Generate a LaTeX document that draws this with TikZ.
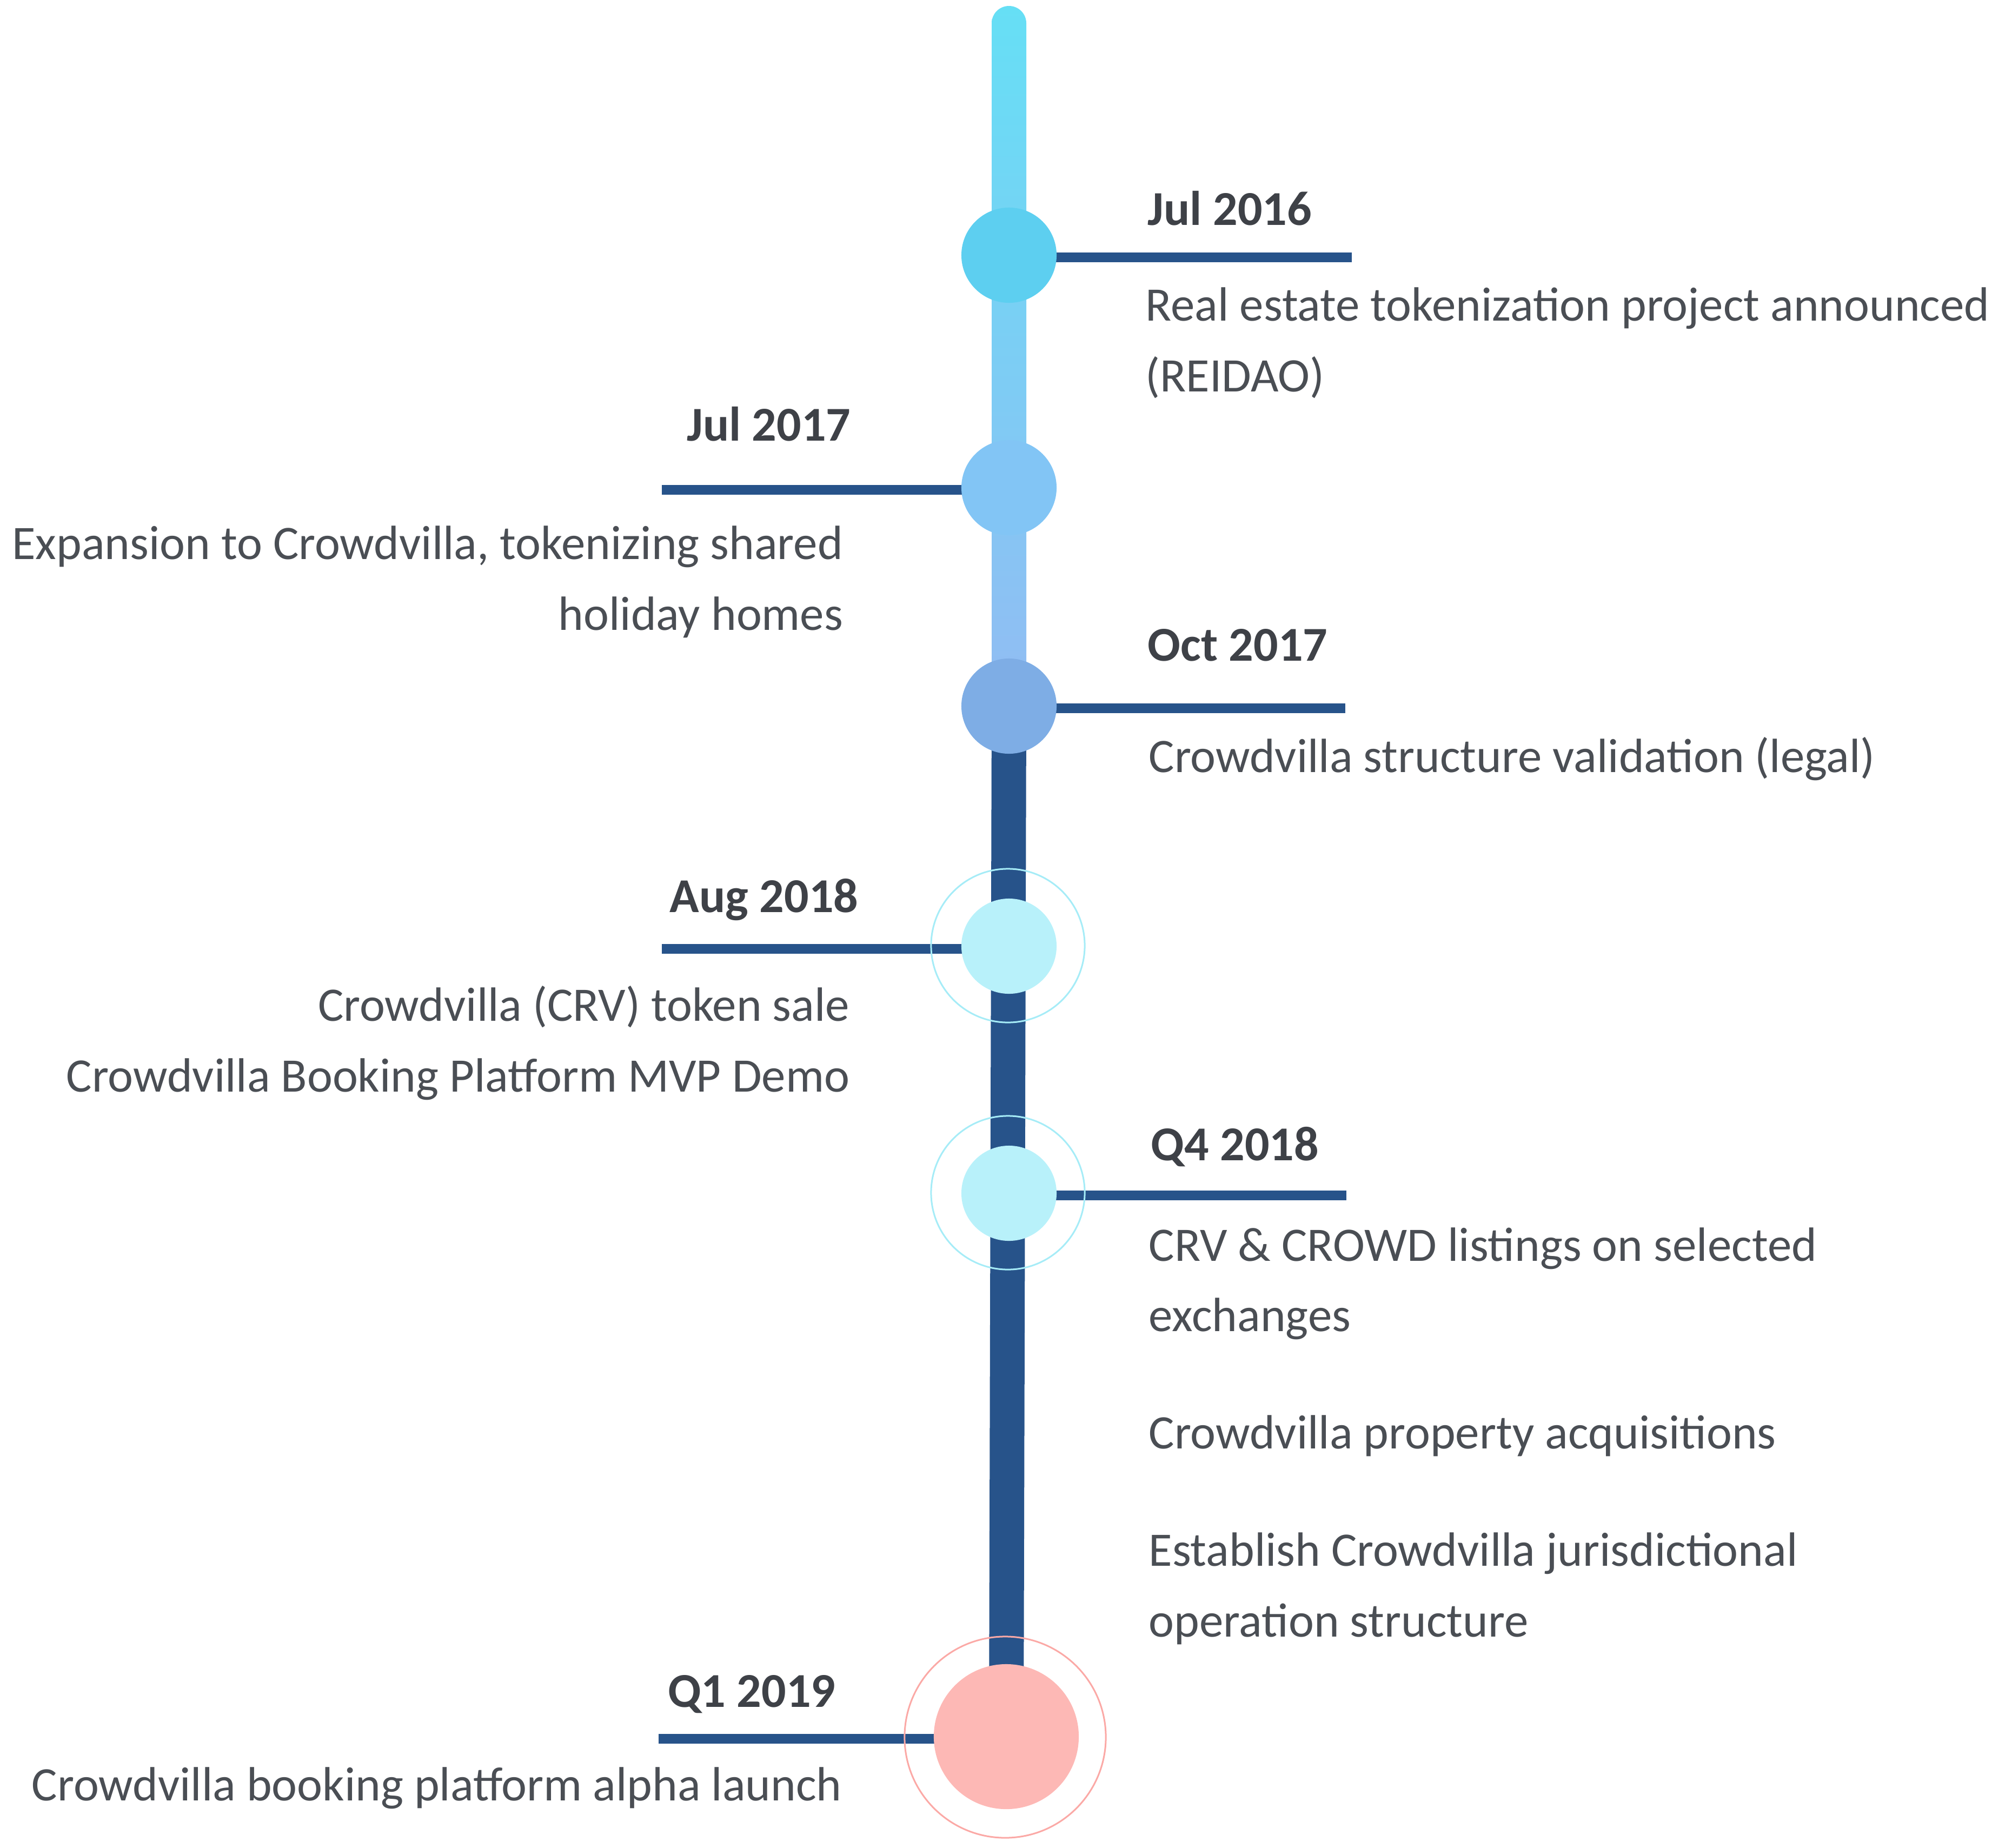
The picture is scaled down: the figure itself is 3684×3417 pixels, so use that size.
\documentclass[tikz,border=0pt]{standalone}
\usepackage{fontspec}
\setmainfont{Carlito}
\usetikzlibrary{positioning,backgrounds}

\definecolor{navy}{HTML}{27538A}
\definecolor{cyantop}{HTML}{66DFF5}
\definecolor{cyanmid}{HTML}{6FCBF5}
\definecolor{cyanlow}{HTML}{92BCF3}
\definecolor{dotjul16}{HTML}{5DCFF0}
\definecolor{dotjul17}{HTML}{82C5F5}
\definecolor{dotoct17}{HTML}{7EADE5}
\definecolor{paleblue}{HTML}{B8F1FA}
\definecolor{palering}{HTML}{A6ECF7}
\definecolor{pink}{HTML}{FDB8B5}
\definecolor{pinkring}{HTML}{FBA9A6}
\definecolor{textgrey}{HTML}{4A4E54}
\definecolor{dategrey}{HTML}{3E4147}

\tikzstyle{stopdot}=[circle, inner sep=0, minimum size=1.76cm]
\tikzstyle{ring}=[circle, inner sep=0, line width=0.03cm, minimum size=2.84cm]
\tikzstyle{tickline}=[draw=navy, line width=0.18cm]
\tikzstyle{datelabel}=[inner sep=0, text=dategrey, font=\fontsize{25.6}{37}\selectfont\bfseries]
\tikzstyle{event}=[inner sep=0, text=textgrey, font=\fontsize{25.3}{37}\selectfont]

\begin{document}
\begin{tikzpicture}[x=0.01cm, y=-0.01cm]
\useasboundingbox (0,0) rectangle (3684,3417);

\coordinate (top) at (1866,11);

\node (jul16) [stopdot, fill=dotjul16] at (1866,472) {};
\node (jul17) [stopdot, fill=dotjul17] at (1866,902) {};
\node (oct17) [stopdot, fill=dotoct17] at (1866,1306) {};
\node (aug18ring) [ring, draw=palering] at (1864,1749) {};
\node (aug18) [stopdot, fill=paleblue] at (1866,1750) {};
\node (q418ring) [ring, draw=palering] at (1864,2206) {};
\node (q418) [stopdot, fill=paleblue] at (1866,2207) {};
\node (q119ring) [ring, draw=pinkring, minimum size=3.72cm] at (1859,3213) {};
\node (q119) [stopdot, fill=pink, minimum size=2.68cm] at (1861,3212) {};

\coordinate (jul16end) at (2500,476);
\coordinate (jul17end) at (1224,906);
\coordinate (oct17end) at (2488,1310);
\coordinate (aug18end) at (1224,1755);
\coordinate (q418end) at (2490,2211);
\coordinate (q119end) at (1218,3216);

\begin{scope}[on background layer]
\shade[top color=cyantop, middle color=cyanmid, bottom color=cyanlow, rounded corners=0.32cm]
  ([xshift=-0.32cm]top) rectangle ([xshift=0.32cm]oct17.center);
\draw [navy, line width=0.64cm] (oct17.center) -- (q119.center);
\draw [tickline] (jul16end -| jul16.center) -- (jul16end);
\draw [tickline] (jul17end -| jul17.center) -- (jul17end);
\draw [tickline] (oct17end -| oct17.center) -- (oct17end);
\draw [tickline] (aug18end -| aug18.center) -- (aug18end);
\draw [tickline] (q418end -| q418.center) -- (q418end);
\draw [tickline] (q119end -| q119.center) -- (q119end);
\end{scope}

\node (jul16date) [datelabel, anchor=base west] at (2122,416) {Jul 2016};
\node (jul16text) [event, anchor=base west, align=left] at (2118,724) {Real estate tokenization project announced\\(REIDAO)};

\node (jul17date) [datelabel, anchor=base east] at (1574,815) {Jul 2017};
\node (jul17text) [event, anchor=base east, align=right] at (1560,1165) {Expansion to Crowdvilla, tokenizing shared\\holiday homes};

\node (oct17date) [datelabel, anchor=base west] at (2122,1222) {Oct 2017};
\node (oct17text) [event, anchor=base west] at (2124,1428) {Crowdvilla structure validation (legal)};

\node (aug18date) [datelabel, anchor=base east] at (1588,1687) {Aug 2018};
\node (aug18text) [event, anchor=base east, align=right] at (1572,2019) {Crowdvilla (CRV) token sale\\Crowdvilla Booking Platform MVP Demo};

\node (q418date) [datelabel, anchor=base west] at (2128,2146) {Q4 2018};
\node (q418text) [event, anchor=base west, align=left] at (2124,3027) {CRV \& CROWD listings on selected\\exchanges\\[0.87cm]Crowdvilla property acquisitions\\[0.87cm]Establish Crowdvilla jurisdictional\\operation structure};

\node (q119date) [datelabel, anchor=base east] at (1546,3157) {Q1 2019};
\node (q119text) [event, anchor=base east] at (1558,3330) {Crowdvilla booking platform alpha launch};

\end{tikzpicture}
\end{document}
